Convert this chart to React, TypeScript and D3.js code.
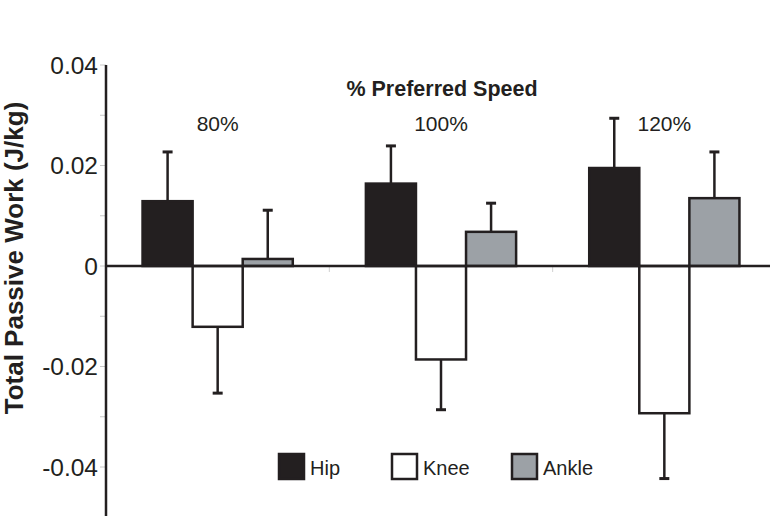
import React from "react";
import * as d3 from "d3";

const speeds = ["80%", "100%", "120%"];
const joints = ["Hip", "Knee", "Ankle"];
// mean passive work per speed, order: Hip, Knee, Ankle
const hipWork = [0.0129, 0.0164, 0.0195];
const kneeWork = [-0.0121, -0.0186, -0.0293];
const ankleWork = [0.0014, 0.0068, 0.0135];
// one-sided SD bars
const hipSd = [0.0098, 0.0075, 0.0099];
const kneeSd = [0.0132, 0.01, 0.013];
const ankleSd = [0.0097, 0.0057, 0.0092];
const yTicks = [0.04, 0.02, 0, -0.02, -0.04];
const yTickLabels = ["0.04", "0.02", "0", "-0.02", "-0.04"];
const minorTicks = [0.04, 0.03, 0.02, 0.01, 0, -0.01, -0.02, -0.03, -0.04];

const fills: Record<string, string> = { Hip: "#231f20", Knee: "#ffffff", Ankle: "#9ca1a6" };
const ink = "#231f20";
const font = "Arial, 'Liberation Sans', Helvetica, sans-serif";

const width = 770;
const height = 516;
const axisX = 106;

const App = () => {
  const y = d3.scaleLinear().domain([-0.05, 0.04]).range([517.25, 65]);
  const x = d3.scaleBand().domain(speeds).range([axisX, 776]).padding(0);
  const xj = d3
    .scaleBand()
    .domain(joints)
    .range([0, x.bandwidth()])
    .paddingInner(0)
    .paddingOuter(0.73);

  const rows = speeds.flatMap((s, i) => [
    { speed: s, joint: "Hip", value: hipWork[i], sd: hipSd[i] },
    { speed: s, joint: "Knee", value: kneeWork[i], sd: kneeSd[i] },
    { speed: s, joint: "Ankle", value: ankleWork[i], sd: ankleSd[i] },
  ]);

  const legendX = [279, 392, 512];

  return (
    <svg
      width={width}
      height={height}
      style={{ position: "absolute", left: 0, top: 0, background: "#fff" }}
      fontFamily={font}
    >
      {/* minor ticks on y axis */}
      {minorTicks.map((t) => (
        <line key={t} x1={axisX - 6} x2={axisX} y1={y(t)} y2={y(t)} stroke="#c8c8c8" strokeWidth={1} />
      ))}
      {/* faint ticks on the zero line between groups */}
      {speeds.slice(1).map((s) => (
        <line key={s} x1={x(s)!} x2={x(s)!} y1={y(0)} y2={y(0) + 6} stroke="#d0d0d0" strokeWidth={1} />
      ))}

      {yTicks.map((t, i) => (
        <text
          key={t}
          x={axisX - 8}
          y={y(t)}
          dy="0.36em"
          textAnchor="end"
          fontSize={24.5}
          fill={ink}
        >
          {yTickLabels[i]}
        </text>
      ))}

      <text
        transform={`translate(23, ${258}) rotate(-90)`}
        textAnchor="middle"
        fontSize={26}
        fontWeight="bold"
        fill={ink}
      >
        Total Passive Work (J/kg)
      </text>

      <text x={442} y={96} textAnchor="middle" fontSize={21.5} fontWeight="bold" fill={ink}>
        % Preferred Speed
      </text>
      {speeds.map((s) => (
        <text key={s} x={x(s)! + x.bandwidth() / 2} y={131} textAnchor="middle" fontSize={21} fill={ink}>
          {s}
        </text>
      ))}

      {/* error bars */}
      {rows.map((d) => {
        const cx = x(d.speed)! + xj(d.joint)! + xj.bandwidth() / 2;
        const end = d.value + Math.sign(d.value) * d.sd;
        return (
          <g key={d.speed + d.joint + "e"}>
            <line x1={cx} x2={cx} y1={y(d.value)} y2={y(end)} stroke={ink} strokeWidth={2.5} />
            <line x1={cx - 5} x2={cx + 5} y1={y(end)} y2={y(end)} stroke={ink} strokeWidth={3} />
          </g>
        );
      })}

      {/* bars */}
      {rows.map((d) => (
        <rect
          key={d.speed + d.joint}
          x={x(d.speed)! + xj(d.joint)!}
          y={Math.min(y(d.value), y(0))}
          width={xj.bandwidth()}
          height={Math.abs(y(d.value) - y(0))}
          fill={fills[d.joint]}
          stroke={ink}
          strokeWidth={2.5}
        />
      ))}

      {/* axes */}
      <line x1={axisX} x2={width} y1={y(0)} y2={y(0)} stroke={ink} strokeWidth={2.5} />
      <line x1={axisX} x2={axisX} y1={y(0.04)} y2={height} stroke={ink} strokeWidth={2.5} />

      {/* legend */}
      {joints.map((j, i) => (
        <g key={j}>
          <rect
            x={legendX[i]}
            y={454}
            width={25}
            height={25}
            fill={fills[j]}
            stroke={ink}
            strokeWidth={2.5}
          />
          <text x={legendX[i] + 31} y={475} fontSize={20} fill={ink}>
            {j}
          </text>
        </g>
      ))}
    </svg>
  );
};

export default App;
